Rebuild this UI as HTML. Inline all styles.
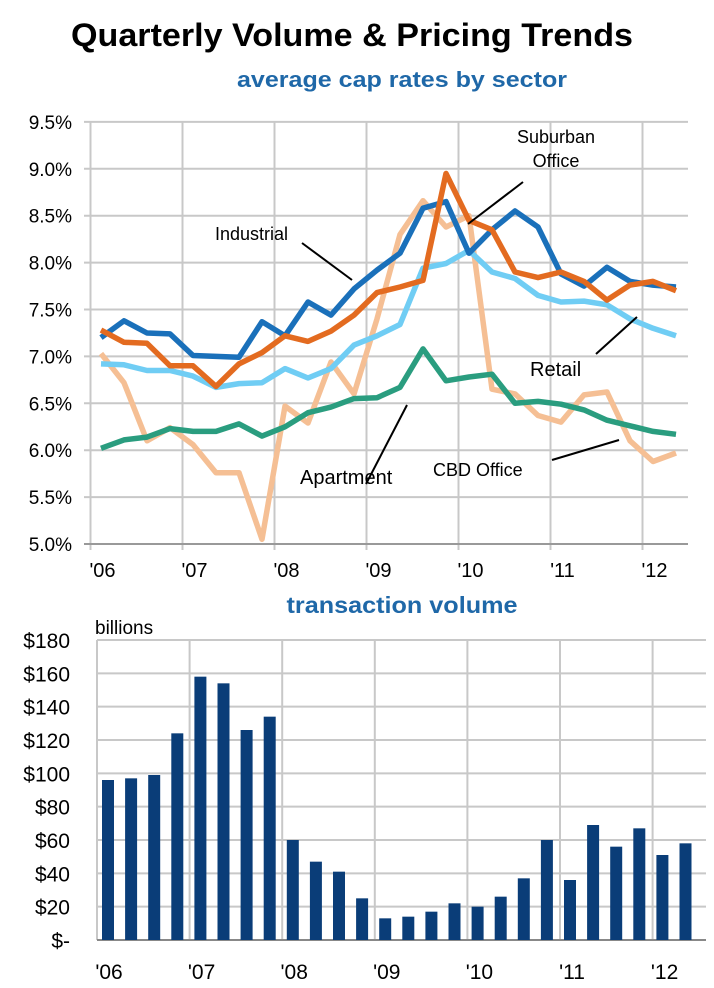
<!DOCTYPE html>
<html><head><meta charset="utf-8"><style>
html,body{margin:0;padding:0;background:#fff;}
svg{display:block;font-family:"Liberation Sans",Arial,sans-serif;}
</style></head><body>
<svg id="s" width="714" height="988" viewBox="0 0 714 988" xmlns="http://www.w3.org/2000/svg">
<text x="352" y="46" text-anchor="middle" font-size="32" font-weight="bold" fill="#000" textLength="562" lengthAdjust="spacingAndGlyphs">Quarterly Volume &amp; Pricing Trends</text>
<text x="402" y="87" text-anchor="middle" font-size="22" font-weight="bold" fill="#1f68a8" textLength="330" lengthAdjust="spacingAndGlyphs">average cap rates by sector</text>
<text x="402" y="613" text-anchor="middle" font-size="23" font-weight="bold" fill="#1f68a8" textLength="231" lengthAdjust="spacingAndGlyphs">transaction volume</text>
<text x="95" y="634" font-size="19" fill="#000">billions</text>
<g id="g"></g>
</svg>
<script>
var ns="http://www.w3.org/2000/svg",g=document.getElementById('g');
function el(t,a,txt){var e=document.createElementNS(ns,t);for(var k in a)e.setAttribute(k,a[k]);if(txt!=null)e.textContent=txt;g.appendChild(e);return e;}
function ty(v){return 544-(v-5)*93.8;}
for(var i=0;i<10;i++){var v=5+i*0.5,y=ty(v);el('line',{x1:84,x2:688,y1:y,y2:y,stroke:'#c8c8c8','stroke-width':2});
el('text',{x:72,y:y+7,'text-anchor':'end','font-size':19,fill:'#000'},v.toFixed(1)+'%');}
var yrs=["'06","'07","'08","'09","'10","'11","'12"];
for(var k=0;k<7;k++){var x=90.5+92*k;el('line',{x1:x,x2:x,y1:122,y2:550,stroke:'#c8c8c8','stroke-width':2});
el('text',{x:x+12,y:577,'text-anchor':'middle','font-size':20,fill:'#000'},yrs[k]);}
el('line',{x1:84,x2:688,y1:544,y2:544,stroke:'#999','stroke-width':2});
var S={
cbd:['#f5bf94',[7.03,6.72,6.1,6.24,6.06,5.76,5.76,5.05,6.47,6.29,6.94,6.6,7.4,8.3,8.66,8.38,8.5,6.65,6.6,6.37,6.3,6.59,6.62,6.1,5.88,5.97]],
apt:['#2a9d7f',[6.02,6.11,6.14,6.23,6.2,6.2,6.28,6.15,6.25,6.4,6.46,6.55,6.56,6.67,7.08,6.74,6.78,6.81,6.5,6.52,6.49,6.43,6.32,6.26,6.2,6.17]],
ret:['#70cdf4',[6.92,6.91,6.85,6.85,6.79,6.67,6.71,6.72,6.87,6.77,6.87,7.12,7.22,7.34,7.94,7.99,8.13,7.9,7.83,7.65,7.58,7.59,7.55,7.4,7.3,7.22]],
ind:['#1a70ba',[7.2,7.38,7.25,7.24,7.01,7.0,6.99,7.37,7.22,7.58,7.44,7.72,7.92,8.1,8.58,8.65,8.1,8.35,8.55,8.38,7.88,7.75,7.95,7.8,7.76,7.74]],
sub:['#e36b20',[7.28,7.15,7.14,6.9,6.9,6.68,6.92,7.04,7.22,7.16,7.27,7.44,7.68,7.74,7.81,8.95,8.45,8.35,7.9,7.84,7.9,7.8,7.6,7.76,7.8,7.7]]};
['cbd','apt','ret','ind','sub'].forEach(function(n){var p=S[n][1].map(function(v,i){return (101+23*i)+','+ty(v).toFixed(1);}).join(' ');
el('polyline',{points:p,fill:'none',stroke:S[n][0],'stroke-width':5.5,'stroke-linejoin':'round'});});
function ln(a,b,c,d){el('line',{x1:a,y1:b,x2:c,y2:d,stroke:'#000','stroke-width':2});}
ln(302,243,352,280);el('text',{x:215,y:240,'font-size':18},'Industrial');
ln(523,182,468,224);el('text',{x:556,y:143,'text-anchor':'middle','font-size':18},'Suburban');el('text',{x:556,y:167,'text-anchor':'middle','font-size':18},'Office');
ln(596,354,637,317);el('text',{x:530,y:376,'font-size':20},'Retail');
ln(366,484,407,405);el('text',{x:300,y:484,'font-size':20},'Apartment');
ln(552,460,619,440);el('text',{x:433,y:476,'font-size':18},'CBD Office');
function by(v){return 940-v*300/180;}
for(var k=0;k<7;k++){var x=97+92.6*k;el('line',{x1:x,x2:x,y1:640,y2:940,stroke:'#c8c8c8','stroke-width':2});
el('text',{x:x+12,y:979,'text-anchor':'middle','font-size':21,fill:'#000'},yrs[k]);}
for(var i=0;i<=9;i++){var v=i*20,y=by(v);el('line',{x1:97,x2:706,y1:y,y2:y,stroke:i==0?'#888':'#c8c8c8','stroke-width':2});
el('text',{x:70,y:y+8,'text-anchor':'end','font-size':21,fill:'#000'},v==0?'$-':'$'+v);}
var B=[96,97,99,124,158,154,126,134,60,47,41,25,13,14,17,22,20,26,37,60,36,69,56,67,51,58];
B.forEach(function(v,i){var cx=108+23.1*i;el('rect',{x:cx-6,y:by(v),width:12,height:940-by(v),fill:'#0a3d78'});});
</script>
</body></html>
